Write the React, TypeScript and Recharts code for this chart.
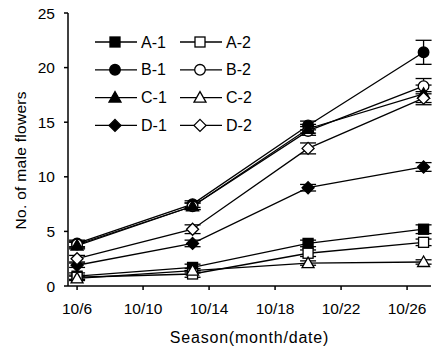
import { LineChart, Line, XAxis, YAxis, ErrorBar } from "recharts";

const days = [6, 13, 20, 27];
const xTicks = [6, 10, 14, 18, 22, 26];
const yTicks = [0, 5, 10, 15, 20, 25];

const a1 = [0.9, 1.7, 3.9, 5.2];
const a2 = [0.8, 1.1, 3.0, 4.0];
const b1 = [3.9, 7.5, 14.7, 21.4];
const b2 = [3.8, 7.3, 14.2, 18.3];
const c1 = [3.7, 7.3, 14.4, 17.6];
const c2 = [0.7, 1.4, 2.1, 2.2];
const d1 = [1.9, 3.9, 9.0, 10.9];
const d2 = [2.5, 5.2, 12.6, 17.2];

const a1Err = [0.3, 0.3, 0.3, 0.4];
const a2Err = [0.2, 0.3, 0.3, 0.3];
const b1Err = [0.3, 0.3, 0.4, 1.1];
const b2Err = [0.3, 0.3, 0.4, 0.7];
const c1Err = [0.3, 0.3, 0.4, 0.8];
const c2Err = [0.2, 0.2, 0.2, 0.2];
const d1Err = [0.2, 0.3, 0.3, 0.4];
const d2Err = [0.3, 0.4, 0.5, 0.6];

type Shape = "square" | "circle" | "triangle" | "diamond";

const series: { key: string; name: string; values: number[]; err: number[]; shape: Shape; filled: boolean }[] = [
  { key: "a1", name: "A-1", values: a1, err: a1Err, shape: "square", filled: true },
  { key: "a2", name: "A-2", values: a2, err: a2Err, shape: "square", filled: false },
  { key: "b1", name: "B-1", values: b1, err: b1Err, shape: "circle", filled: true },
  { key: "b2", name: "B-2", values: b2, err: b2Err, shape: "circle", filled: false },
  { key: "c1", name: "C-1", values: c1, err: c1Err, shape: "triangle", filled: true },
  { key: "c2", name: "C-2", values: c2, err: c2Err, shape: "triangle", filled: false },
  { key: "d1", name: "D-1", values: d1, err: d1Err, shape: "diamond", filled: true },
  { key: "d2", name: "D-2", values: d2, err: d2Err, shape: "diamond", filled: false },
];

const data = days.map((day, i) => {
  const row: Record<string, number> = { day };
  series.forEach((s) => {
    row[s.key] = s.values[i];
    row[s.key + "Err"] = s.err[i];
  });
  return row;
});

function Marker({ cx, cy, shape, filled }: { cx: number; cy: number; shape: Shape; filled: boolean }) {
  const fill = filled ? "#000" : "#fff";
  const p = { fill, stroke: "#000", strokeWidth: 1.3 };
  if (shape === "square") return <rect x={cx - 5} y={cy - 5} width={10} height={10} {...p} />;
  if (shape === "circle") return <circle cx={cx} cy={cy} r={5.3} {...p} />;
  if (shape === "triangle")
    return <polygon points={`${cx},${cy - 6} ${cx + 6},${cy + 4.5} ${cx - 6},${cy + 4.5}`} {...p} />;
  return <polygon points={`${cx},${cy - 6} ${cx + 6},${cy} ${cx},${cy + 6} ${cx - 6},${cy}`} {...p} />;
}

const font = "'Liberation Sans', Arial, sans-serif";

export default function App() {
  return (
    <div style={{ position: "absolute", left: 0, top: 0, width: 433, height: 354, background: "#fff" }}>
      <LineChart width={433} height={354} data={data} margin={{ top: 13, right: 2, bottom: 0, left: 0 }}>
        <XAxis
          dataKey="day"
          type="number"
          domain={[5.45, 27.45]}
          ticks={xTicks}
          tickFormatter={(v) => `10/${v}`}
          height={68}
          tickSize={4}
          tickMargin={13}
          stroke="#000"
          strokeWidth={1.5}
          tick={{ fill: "#000", fontSize: 15.5, fontFamily: font }}
          label={{ value: "Season(month/date)", position: "insideBottom", offset: 11, fill: "#000", fontSize: 16, fontFamily: font, letterSpacing: 0.8 }}
        />
        <XAxis xAxisId="top" orientation="top" dataKey="day" type="number" domain={[5.45, 27.45]} tick={false} tickLine={false} height={0} stroke="#000" strokeWidth={1.5} />
        <YAxis
          type="number"
          domain={[0, 25]}
          ticks={yTicks}
          width={68}
          tickSize={4}
          tickMargin={9}
          stroke="#000"
          strokeWidth={1.5}
          tick={{ fill: "#000", fontSize: 15.5, fontFamily: font }}
          label={{ value: "No. of male flowers", angle: -90, position: "insideLeft", offset: 20, dy: 80, fill: "#000", fontSize: 15.5, fontFamily: font, letterSpacing: 0.3 }}
        />
        <YAxis yAxisId="right" orientation="right" type="number" domain={[0, 25]} tick={false} tickLine={false} width={0} stroke="#000" strokeWidth={1.5} />
        {series.map((s) => (
          <Line
            key={s.key}
            dataKey={s.key}
            name={s.name}
            stroke="#000"
            strokeWidth={1.3}
            isAnimationActive={false}
            dot={(props: any) => (
              <Marker key={`${s.key}-${props.index}`} cx={props.cx} cy={props.cy} shape={s.shape} filled={s.filled} />
            )}
          >
            <ErrorBar dataKey={s.key + "Err"} width={8} stroke="#000" strokeWidth={1.3} />
          </Line>
        ))}
      </LineChart>
      <svg width={433} height={354} style={{ position: "absolute", left: 0, top: 0, pointerEvents: "none" }}>
        {series.map((s, i) => {
          const col = i % 2;
          const row = Math.floor(i / 2);
          const x0 = col === 0 ? 95 : 180;
          const y = 42 + row * 27.8;
          return (
            <g key={s.key}>
              <line x1={x0} x2={x0 + 42} y1={y} y2={y} stroke="#000" strokeWidth={1.3} />
              <Marker cx={x0 + 20} cy={y} shape={s.shape} filled={s.filled} />
              <text x={x0 + 46} y={y + 5.5} fontSize={16} fontFamily={font} fill="#000">
                {s.name}
              </text>
            </g>
          );
        })}
      </svg>
    </div>
  );
}
